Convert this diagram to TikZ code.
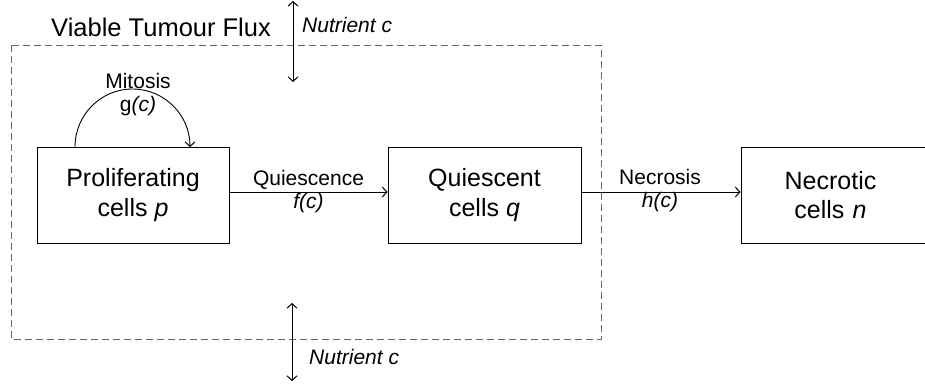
\documentclass[tikz,border=0pt]{standalone}
\usepackage{fontspec}
\setmainfont{Liberation Sans}
\usetikzlibrary{arrows.meta,calc}
\begin{document}
\begin{tikzpicture}[x=1pt,y=-1pt,
  cellbox/.style={draw, line width=1pt, minimum width=192pt, minimum height=96pt, inner sep=0pt, align=center, font=\fontsize{25}{29.5}\selectfont},
  lbl/.style={align=center, font=\fontsize{21}{23}\selectfont, inner sep=0pt},
  flow/.style={line width=0.9pt, -{Straight Barb[length=4.5pt,width=10pt,line width=1pt]}},
  both/.style={line width=0.9pt, {Straight Barb[length=4.5pt,width=10pt,line width=1pt]}-{Straight Barb[length=4.5pt,width=10pt,line width=1pt]}},
  region/.style={draw=black!60, line width=0.9pt, dash pattern=on 7pt off 4pt}]
\useasboundingbox (0,0) rectangle (925,389);
\clip (0,0) rectangle (925,389);
\fill[white] (0,0) rectangle (925,389);
% region
\draw[region] (11,45) rectangle (601,339);
\node[anchor=west, font=\fontsize{25.5}{29}\selectfont, inner sep=0pt] (title) at (51,27) {Viable Tumour Flux};
% boxes
\node[cellbox] (p) at (133,195) {Proliferating\\cells \textit{p}};
\node[cellbox, minimum width=193pt] (q) at (484.5,195) {Quiescent\\cells \textit{q}};
\node[cellbox, minimum width=193pt, text width=170pt] (n) at (837.5,195) {\hspace*{-14pt}Necrotic\\\hspace*{-14pt}cells \textit{n}};
% flows
\draw[flow] (p.east |- 0,192) coordinate (pa) -- (q.west |- 0,192) coordinate (qa);
\draw[flow] (q.east |- 0,192) coordinate (qb) -- (n.west |- 0,192) coordinate (nb);
\node[lbl] (fq) at ($(pa)!0.5!(qa)$) {Quiescence\\\textit{f(c)}};
\node[lbl] (fn) at (660,191) {Necrosis\\\textit{h(c)}};
% mitosis
\coordinate (ms) at (75,147);
\coordinate (me) at (190,147);
\draw[flow] (ms) arc[start angle=180, end angle=0, x radius=57.5pt, y radius=58pt];
\node[lbl] (mit) at (138,95) {Mitosis\\g\textit{(c)}};
% nutrients
\coordinate (t1) at (293,1);
\coordinate (t2) at (293,82);
\draw[both] (t1) -- (t2);
\node[anchor=west, font=\itshape\fontsize{21}{23}\selectfont, inner sep=0pt] (nt) at (302,25) {Nutrient c};
\coordinate (b1) at (292,303);
\coordinate (b2) at (292,381);
\draw[both] (b1) -- (b2);
\node[anchor=west, font=\itshape\fontsize{21}{23}\selectfont, inner sep=0pt] (nb2) at (309,357) {Nutrient c};
\end{tikzpicture}
\end{document}
